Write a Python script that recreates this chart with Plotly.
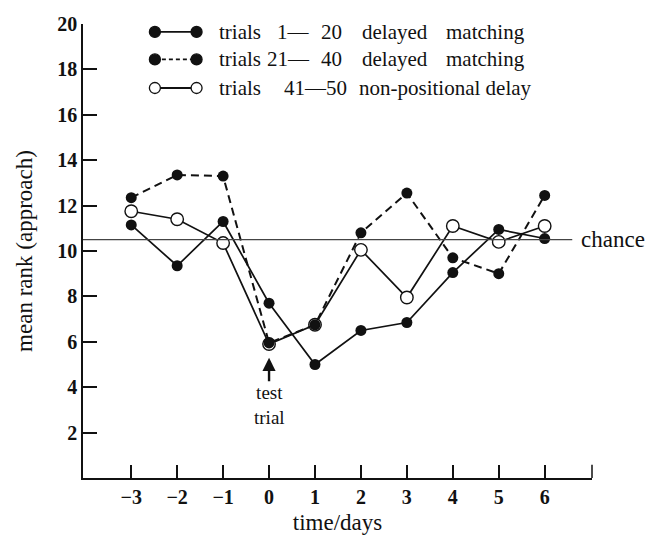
import plotly.graph_objects as go

days = [-3, -2, -1, 0, 1, 2, 3, 4, 5, 6]
trials_1_20 = [11.15, 9.35, 11.3, 7.7, 5.0, 6.5, 6.85, 9.05, 10.95, 10.55]
trials_21_40 = [12.35, 13.35, 13.3, 5.95, 6.75, 10.8, 12.55, 9.7, 9.0, 12.45]
trials_41_50 = [11.75, 11.4, 10.35, 5.9, 6.75, 10.05, 7.95, 11.1, 10.4, 11.1]
chance_level = 10.5
x_ticks = days
y_ticks = [2, 4, 6, 8, 10, 12, 14, 16, 18, 20]

# legend text pieces: (text, data-x anchor, xanchor)
legend_rows = [
    [("trials", -1.137, "left"), ("1\u2014", 0.928, "right"), ("20", 1.08, "left"),
     ("delayed", 1.972, "left"), ("matching", 3.80, "left")],
    [("trials", -1.137, "left"), ("21\u2014", 0.928, "right"), ("40", 1.08, "left"),
     ("delayed", 1.972, "left"), ("matching", 3.80, "left")],
    [("trials", -1.137, "left"), ("41\u201450", 0.276, "left"),
     ("non-positional delay", 1.907, "left")],
]
legend_y = [19.65, 18.44, 17.18]

FONT = "Liberation Serif"
BLACK = "#111111"

fig = go.Figure()

fig.add_trace(go.Scatter(
    x=days, y=trials_41_50, mode="lines+markers", name="trials 41\u201450 non-positional delay",
    line=dict(color=BLACK, width=1.7),
    marker=dict(size=12.5, color="white", line=dict(color=BLACK, width=1.4))))
fig.add_trace(go.Scatter(
    x=days, y=trials_21_40, mode="lines+markers", name="trials 21\u201440 delayed matching",
    line=dict(color=BLACK, width=2, dash="8px,5px"),
    marker=dict(size=11, color=BLACK)))
fig.add_trace(go.Scatter(
    x=days, y=trials_1_20, mode="lines+markers", name="trials 1\u201420 delayed matching",
    line=dict(color=BLACK, width=1.7),
    marker=dict(size=11, color=BLACK)))

shapes = []
annotations = []

# chance line
shapes.append(dict(type="line", xref="x", yref="y", x0=-4.05, x1=6.6,
                   y0=chance_level, y1=chance_level,
                   line=dict(color="#444444", width=1.3)))
annotations.append(dict(x=6.6, xref="x", y=chance_level, yref="y",
                        text="chance", showarrow=False, xanchor="left",
                        xshift=7, font=dict(family=FONT, size=23, color=BLACK)))

# right end tick on x-axis
shapes.append(dict(type="line", xref="paper", yref="paper", x0=1, x1=1,
                   y0=0, y1=0.029, line=dict(color=BLACK, width=1.5)))

# legend (manual)
leg_x0, leg_x1 = -2.485, -1.578
styles = [("solid", BLACK), ("dash", BLACK), ("solid", "white")]
for (dash, fill), yy, pieces in zip(styles, legend_y, legend_rows):
    shapes.append(dict(type="line", xref="x", yref="y", x0=leg_x0, x1=leg_x1,
                       y0=yy, y1=yy,
                       line=dict(color=BLACK, width=1.8,
                                 dash="4px,3px" if dash == "dash" else "solid")))
    for xx in (leg_x0, leg_x1):
        shapes.append(dict(type="circle", xref="x", yref="y",
                           xsizemode="pixel", ysizemode="pixel",
                           xanchor=xx, yanchor=yy, x0=-5.5, x1=5.5, y0=-5.5, y1=5.5,
                           fillcolor=fill, line=dict(color=BLACK, width=1.3)))
    for text, xx, anchor in pieces:
        annotations.append(dict(x=xx, y=yy, xref="x", yref="y", text=text,
                                showarrow=False, xanchor=anchor,
                                font=dict(family=FONT, size=21, color=BLACK)))

# test trial arrow and label
annotations.append(dict(x=0, y=5.3, xref="x", yref="y", text="", showarrow=True,
                        ax=0, ay=25, arrowhead=2, arrowsize=1.1, arrowwidth=2.4,
                        arrowcolor=BLACK))
annotations.append(dict(x=0, y=4.3, xref="x", yref="y", text="test<br>trial",
                        showarrow=False, yanchor="top", align="center",
                        font=dict(family=FONT, size=19, color=BLACK)))

fig.update_layout(
    width=649, height=535,
    margin=dict(l=83, r=57, t=24, b=57),
    paper_bgcolor="white", plot_bgcolor="white",
    font=dict(family=FONT, size=19, color=BLACK),
    shapes=shapes, annotations=annotations,
    showlegend=False,
)
fig.update_xaxes(
    range=[-4.05, 7.03], showgrid=False, zeroline=False, automargin=False,
    showline=True, linecolor=BLACK, linewidth=1.6,
    ticks="inside", ticklen=13, tickwidth=1.6, tickcolor=BLACK,
    tickvals=x_ticks, ticktext=[str(v).replace("-", "\u2212") for v in x_ticks],
    tickfont=dict(family=FONT, size=20, color=BLACK, weight="bold"),
    title=dict(text="time/days", font=dict(family=FONT, size=23, color=BLACK), standoff=10),
)
fig.update_yaxes(
    range=[0, 20], showgrid=False, zeroline=False, automargin=False,
    showline=True, linecolor=BLACK, linewidth=1.6,
    ticks="inside", ticklen=14, tickwidth=1.6, tickcolor=BLACK,
    tickvals=y_ticks, ticktext=[str(v) for v in y_ticks],
    tickfont=dict(family=FONT, size=20, color=BLACK, weight="bold"),
    title=dict(text="mean rank (approach)", font=dict(family=FONT, size=23, color=BLACK), standoff=18),
)

fig.write_html("out.html", config={"displayModeBar": False},
               post_script="document.body.style.margin='0';document.body.style.overflow='hidden';")
